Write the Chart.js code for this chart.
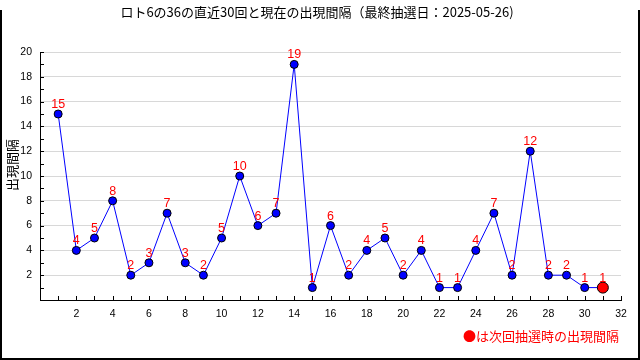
<!DOCTYPE html>
<html>
<head>
<meta charset="utf-8">
<script src="https://cdn.jsdelivr.net/npm/chart.js@4/dist/chart.umd.min.js"></script>
<style>
html,body{margin:0;padding:0;background:#fff;}
#wrap{width:640px;height:360px;position:relative;}
canvas{display:block;}
</style>
</head>
<body>
<div id="wrap"><canvas id="c" width="640" height="360"></canvas></div>
<script>
// ---- data ----
const draws = [1,2,3,4,5,6,7,8,9,10,11,12,13,14,15,16,17,18,19,20,21,22,23,24,25,26,27,28,29,30,31];
const intervals = [15,4,5,8,2,3,7,3,2,5,10,6,7,19,1,6,2,4,5,2,4,1,1,4,7,2,12,2,2,1,1];
const titleText = 'ロト6の36の直近30回と現在の出現間隔（最終抽選日：2025-05-26)';
const yAxisTitle = '出現間隔';
const noteText = '●は次回抽選時の出現間隔';
const xMax = 32, yMax = 20;

const lastIdx = intervals.length - 1;
const points = draws.map((d, i) => ({x: d, y: intervals[i]}));

const tickFont = {family: 'Liberation Sans', size: 10.5};

const decorPlugin = {
  id: 'decor',
  afterDraw(chart) {
    const ctx = chart.ctx;
    const xs = chart.scales.x, ys = chart.scales.y;
    const area = chart.chartArea;
    ctx.save();
    // inner tick marks
    ctx.strokeStyle = '#000';
    ctx.lineWidth = 1;
    ctx.beginPath();
    for (let v = 1; v <= yMax; v++) {
      const py = Math.round(ys.getPixelForValue(v)) + 0.5;
      ctx.moveTo(area.left, py); ctx.lineTo(area.left + 4, py);
    }
    for (let v = 1; v <= xMax; v++) {
      const px = Math.round(xs.getPixelForValue(v)) + 0.5;
      ctx.moveTo(px, area.bottom); ctx.lineTo(px, area.bottom - 4);
    }
    ctx.stroke();

    // value labels
    const meta = chart.getDatasetMeta(0);
    ctx.fillStyle = '#ff0000';
    ctx.font = '12.5px "Liberation Sans"';
    ctx.textAlign = 'center';
    ctx.textBaseline = 'alphabetic';
    meta.data.forEach((el, i) => {
      ctx.fillText(String(intervals[i]), el.x, el.y - 6);
    });

    // title
    ctx.fillStyle = '#000';
    ctx.font = '13px "Noto Sans CJK JP"';
    ctx.textBaseline = 'middle';
    ctx.fillText(titleText, 317, 12);

    // y axis title
    ctx.save();
    ctx.translate(12, 165);
    ctx.rotate(-Math.PI / 2);
    ctx.font = '13px "Noto Sans CJK JP"';
    ctx.fillText(yAxisTitle, 0, 0);
    ctx.restore();

    // note
    ctx.fillStyle = '#ff0000';
    ctx.font = '13px "Noto Sans CJK JP"';
    ctx.textAlign = 'right';
    ctx.fillText(noteText, 619, 336);

    // frame
    ctx.strokeStyle = '#000';
    ctx.lineWidth = 2;
    ctx.beginPath();
    ctx.moveTo(1, 10); ctx.lineTo(1, 359); ctx.lineTo(639, 359); ctx.lineTo(639, 10);
    ctx.stroke();
    ctx.restore();
  }
};

new Chart(document.getElementById('c'), {
  type: 'line',
  data: {
    datasets: [{
      data: points,
      borderColor: '#0000ff',
      borderWidth: 1,
      tension: 0,
      pointRadius: intervals.map((v, i) => i === lastIdx ? 5.5 : 4),
      pointBackgroundColor: intervals.map((v, i) => i === lastIdx ? '#ff0000' : '#0000ff'),
      pointBorderColor: '#000',
      pointBorderWidth: 1
    }]
  },
  options: {
    responsive: false,
    animation: false,
    layout: {padding: {left: 0, right: 19, top: 52, bottom: 0}},
    plugins: {legend: {display: false}, tooltip: {enabled: false}},
    scales: {
      x: {
        type: 'linear', min: 0, max: xMax,
        afterFit(s) { s.height = 60; },
        grid: {color: 'transparent', drawTicks: false},
        border: {display: true, color: '#000', width: 1},
        ticks: {
          stepSize: 1, autoSkip: false, maxRotation: 0, padding: 8,
          color: '#000', font: tickFont,
          callback: v => (v > 0 && v % 2 === 0) ? String(v) : ''
        }
      },
      y: {
        min: 0, max: yMax,
        afterFit(s) { s.width = 40; },
        grid: {
          drawTicks: false,
          color: c => (c.tick && c.tick.value > 0 && c.tick.value % 2 === 0) ? '#d8d8d8' : 'transparent'
        },
        border: {display: true, color: '#000', width: 1},
        ticks: {
          stepSize: 1, autoSkip: false, padding: 8,
          color: '#000', font: tickFont,
          callback: v => (v > 0 && v % 2 === 0) ? String(v) : ''
        }
      }
    }
  },
  plugins: [decorPlugin]
});
</script>
</body>
</html>
